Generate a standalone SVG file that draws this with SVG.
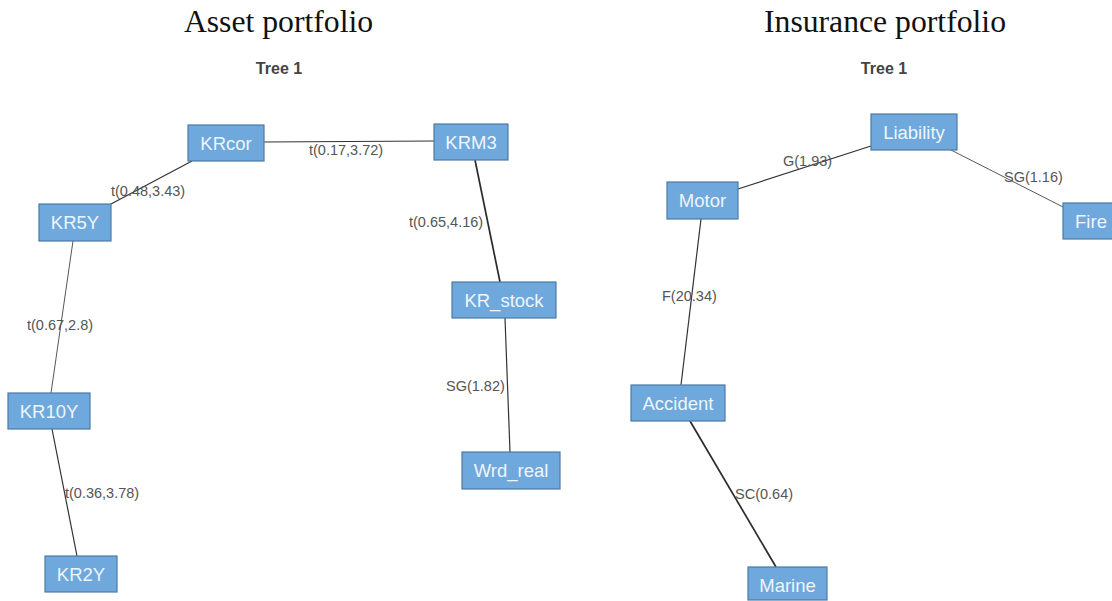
<svg xmlns="http://www.w3.org/2000/svg" width="1112" height="601" viewBox="0 0 1112 601">
  <style>
    .title { font-family: "Liberation Serif", "Times New Roman", serif; font-size: 31.7px; fill: #111; text-anchor: middle; }
    .tree { font-family: "Liberation Sans", Arial, sans-serif; font-size: 16px; font-weight: bold; fill: #444; text-anchor: middle; }
    .box { fill: #6fa8dc; stroke: #4d7aa6; stroke-width: 1.2; }
    .lbl { font-family: "Liberation Sans", Arial, sans-serif; font-size: 18.5px; fill: #eef5fc; text-anchor: middle; }
    .elbl { font-family: "Liberation Sans", Arial, sans-serif; font-size: 14.5px; fill: #555; }
    .edge { stroke: #333; stroke-width: 1.2; fill: none; }
    .edge.thin { stroke: #444; stroke-width: 0.9; }
    .edge.thick { stroke: #2b2b2b; stroke-width: 1.7; }
  </style>
  <rect width="1112" height="601" fill="#fff"/>

  <!-- headings -->
  <text class="title" x="278.5" y="32">Asset portfolio</text>
  <text class="title" x="885" y="32">Insurance portfolio</text>
  <text class="tree" x="279" y="74">Tree 1</text>
  <text class="tree" x="884" y="74">Tree 1</text>

  <!-- connectors -->
  <g id="connectors">
    <line class="edge" x1="264" y1="142" x2="434" y2="141"/>
    <line class="edge" x1="192" y1="161" x2="111" y2="204"/>
    <line class="edge thick" x1="475" y1="160" x2="500" y2="282"/>
    <line class="edge thin" x1="73" y1="241" x2="51" y2="393"/>
    <line class="edge" x1="505" y1="318" x2="510" y2="452"/>
    <line class="edge" x1="52" y1="429" x2="77" y2="556"/>

    <line class="edge" x1="738" y1="189" x2="871" y2="146"/>
    <line class="edge thin" x1="951" y1="150" x2="1063" y2="207"/>
    <line class="edge" x1="701" y1="219" x2="681" y2="385"/>
    <line class="edge thick" x1="690" y1="421" x2="776" y2="567"/>

    <text class="elbl" x="309" y="155">t(0.17,3.72)</text>
    <text class="elbl" x="111" y="196">t(0.48,3.43)</text>
    <text class="elbl" x="409" y="227">t(0.65,4.16)</text>
    <text class="elbl" x="27" y="330">t(0.67,2.8)</text>
    <text class="elbl" x="446" y="391">SG(1.82)</text>
    <text class="elbl" x="65" y="498">t(0.36,3.78)</text>

    <text class="elbl" x="783" y="166">G(1.93)</text>
    <text class="elbl" x="1004" y="182">SG(1.16)</text>
    <text class="elbl" x="662" y="301">F(20.34)</text>
    <text class="elbl" x="735" y="499">SC(0.64)</text>
  </g>

  <!-- asset tree nodes -->
  <g id="KRcor"><rect class="box" x="188" y="125" width="76" height="36"/><text class="lbl" x="226" y="149.5">KRcor</text></g>
  <g id="KRM3"><rect class="box" x="434" y="124" width="74" height="36"/><text class="lbl" x="471" y="148.5">KRM3</text></g>
  <g id="KR5Y"><rect class="box" x="39" y="204" width="72" height="37"/><text class="lbl" x="75" y="229">KR5Y</text></g>
  <g id="KR_stock"><rect class="box" x="452" y="282" width="104" height="36"/><text class="lbl" x="504" y="306.5">KR_stock</text></g>
  <g id="KR10Y"><rect class="box" x="8" y="393" width="82" height="36"/><text class="lbl" x="49" y="417.5">KR10Y</text></g>
  <g id="Wrd_real"><rect class="box" x="462" y="452" width="98" height="37"/><text class="lbl" x="511" y="477">Wrd_real</text></g>
  <g id="KR2Y"><rect class="box" x="45" y="556" width="72" height="36"/><text class="lbl" x="81" y="580.5">KR2Y</text></g>

  <!-- insurance tree nodes -->
  <g id="Liability"><rect class="box" x="871" y="114" width="86" height="36"/><text class="lbl" x="914" y="138.5">Liability</text></g>
  <g id="Motor"><rect class="box" x="667" y="182" width="71" height="37"/><text class="lbl" x="702.5" y="207">Motor</text></g>
  <g id="Fire"><rect class="box" x="1063" y="203" width="56" height="36"/><text class="lbl" x="1091" y="227.5">Fire</text></g>
  <g id="Accident"><rect class="box" x="631" y="385" width="94" height="36"/><text class="lbl" x="678" y="409.5">Accident</text></g>
  <g id="Marine"><rect class="box" x="748" y="567" width="79" height="33"/><text class="lbl" x="787.5" y="592">Marine</text></g>
</svg>
